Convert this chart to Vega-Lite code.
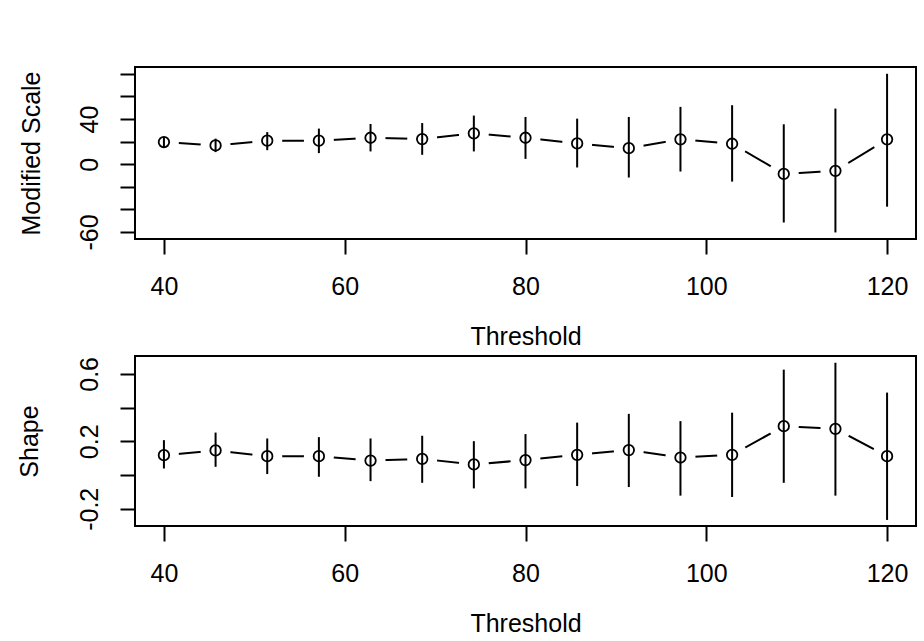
{
  "$schema": "https://vega.github.io/schema/vega-lite/v6.json",
  "background": "white",
  "padding": {"left": 16, "top": 66, "right": 8, "bottom": 3},
  "bounds": "flush",
  "spacing": 117,
  "datasets": {
    "scale": [
      {"threshold": 40, "est": 19.6, "lower": 15, "upper": 24},
      {"threshold": 45.714, "est": 16.6, "lower": 10.7, "upper": 22.6},
      {"threshold": 51.429, "est": 20.8, "lower": 12.4, "upper": 28.4},
      {"threshold": 57.143, "est": 20.8, "lower": 9.8, "upper": 31.5},
      {"threshold": 62.857, "est": 23.4, "lower": 11.3, "upper": 35.6},
      {"threshold": 68.571, "est": 22.2, "lower": 8.3, "upper": 36.4},
      {"threshold": 74.286, "est": 27.3, "lower": 11.3, "upper": 43},
      {"threshold": 80, "est": 23.4, "lower": 4.7, "upper": 41.8},
      {"threshold": 85.714, "est": 18.4, "lower": -2.9, "upper": 40.3},
      {"threshold": 91.429, "est": 14.2, "lower": -11.8, "upper": 41.8},
      {"threshold": 97.143, "est": 22, "lower": -6.5, "upper": 50.7},
      {"threshold": 102.857, "est": 18.1, "lower": -15.4, "upper": 52.2},
      {"threshold": 108.571, "est": -8.6, "lower": -51.6, "upper": 35.3},
      {"threshold": 114.286, "est": -5.9, "lower": -60.4, "upper": 49.2},
      {"threshold": 120, "est": 22, "lower": -37.6, "upper": 80}
    ],
    "shape": [
      {"threshold": 40, "est": 0.118, "lower": 0.039, "upper": 0.207},
      {"threshold": 45.714, "est": 0.146, "lower": 0.049, "upper": 0.252},
      {"threshold": 51.429, "est": 0.112, "lower": 0.006, "upper": 0.217},
      {"threshold": 57.143, "est": 0.112, "lower": -0.01, "upper": 0.225},
      {"threshold": 62.857, "est": 0.086, "lower": -0.036, "upper": 0.217},
      {"threshold": 68.571, "est": 0.096, "lower": -0.046, "upper": 0.233},
      {"threshold": 74.286, "est": 0.063, "lower": -0.079, "upper": 0.201},
      {"threshold": 80, "est": 0.089, "lower": -0.079, "upper": 0.243},
      {"threshold": 85.714, "est": 0.12, "lower": -0.065, "upper": 0.311},
      {"threshold": 91.429, "est": 0.148, "lower": -0.071, "upper": 0.363},
      {"threshold": 97.143, "est": 0.104, "lower": -0.122, "upper": 0.32},
      {"threshold": 102.857, "est": 0.12, "lower": -0.13, "upper": 0.37},
      {"threshold": 108.571, "est": 0.29, "lower": -0.046, "upper": 0.625},
      {"threshold": 114.286, "est": 0.274, "lower": -0.122, "upper": 0.666},
      {"threshold": 120, "est": 0.112, "lower": -0.266, "upper": 0.489}
    ]
  },
  "vconcat": [
    {
      "width": 781,
      "height": 172,
      "data": {"name": "scale"},
      "encoding": {
        "x": {
          "field": "threshold", "type": "quantitative", "title": "Threshold",
          "scale": {"domain": [36.8, 123.2], "nice": false, "zero": false},
          "axis": {"values": [40, 60, 80, 100, 120], "tickCount": 10, "format": "d", "titleX": 390.5, "titleY": 105}
        }
      },
      "layer": [
        {
          "mark": {"type": "line", "color": "black", "strokeWidth": 2},
          "encoding": {
            "y": {
              "field": "est", "type": "quantitative", "title": "Modified Scale",
              "scale": {"domain": [-66.2, 86], "nice": false, "zero": false},
              "axis": {
                "values": [-60, -40, -20, 0, 20, 40, 60, 80],
                "tickCount": 20,
                "labelExpr": "indexof([40, 0, -60], datum.value) >= 0 ? toString(datum.value) : ''",
                "titleX": -96, "titleY": 86
              }
            }
          }
        },
        {
          "mark": {"type": "point", "shape": "circle", "filled": true, "color": "white", "opacity": 1, "size": 900, "strokeWidth": 0},
          "encoding": {"y": {"field": "est", "type": "quantitative", "title": "Modified Scale"}}
        },
        {
          "mark": {"type": "rule", "color": "black", "strokeWidth": 2},
          "encoding": {
            "y": {"field": "lower", "type": "quantitative", "title": "Modified Scale"},
            "y2": {"field": "upper"}
          }
        },
        {
          "mark": {"type": "point", "shape": "circle", "filled": false, "color": "black", "opacity": 1, "size": 110, "strokeWidth": 1.8},
          "encoding": {"y": {"field": "est", "type": "quantitative", "title": "Modified Scale"}}
        }
      ]
    },
    {
      "width": 781,
      "height": 170,
      "data": {"name": "shape"},
      "encoding": {
        "x": {
          "field": "threshold", "type": "quantitative", "title": "Threshold",
          "scale": {"domain": [36.8, 123.2], "nice": false, "zero": false},
          "axis": {"values": [40, 60, 80, 100, 120], "tickCount": 10, "format": "d", "titleX": 390.5, "titleY": 105}
        }
      },
      "layer": [
        {
          "mark": {"type": "line", "color": "black", "strokeWidth": 2},
          "encoding": {
            "y": {
              "field": "est", "type": "quantitative", "title": "Shape",
              "scale": {"domain": [-0.302, 0.706], "nice": false, "zero": false},
              "axis": {
                "values": [-0.2, 0, 0.2, 0.4, 0.6],
                "tickCount": 20,
                "labelExpr": "indexof([0.6, 0.2, -0.2], datum.value) >= 0 ? toString(datum.value) : ''",
                "titleX": -98, "titleY": 85
              }
            }
          }
        },
        {
          "mark": {"type": "point", "shape": "circle", "filled": true, "color": "white", "opacity": 1, "size": 900, "strokeWidth": 0},
          "encoding": {"y": {"field": "est", "type": "quantitative", "title": "Shape"}}
        },
        {
          "mark": {"type": "rule", "color": "black", "strokeWidth": 2},
          "encoding": {
            "y": {"field": "lower", "type": "quantitative", "title": "Shape"},
            "y2": {"field": "upper"}
          }
        },
        {
          "mark": {"type": "point", "shape": "circle", "filled": false, "color": "black", "opacity": 1, "size": 110, "strokeWidth": 1.8},
          "encoding": {"y": {"field": "est", "type": "quantitative", "title": "Shape"}}
        }
      ]
    }
  ],
  "config": {
    "font": "Liberation Sans",
    "view": {"stroke": "black", "strokeWidth": 2},
    "axis": {
      "grid": false,
      "domain": false,
      "ticks": true,
      "tickColor": "black",
      "tickWidth": 2,
      "tickSize": 15,
      "labelFont": "Liberation Sans",
      "labelFontSize": 25,
      "labelColor": "black",
      "labelPadding": 20,
      "labelOverlap": false,
      "labelFlush": false,
      "titleFont": "Liberation Sans",
      "titleFontSize": 25,
      "titleFontWeight": "normal",
      "titleColor": "black",
      "titleAlign": "center",
      "titleBaseline": "alphabetic"
    },
    "axisLeft": {
      "labelAngle": 270,
      "labelAlign": "center",
      "labelBaseline": "alphabetic",
      "labelPadding": 23,
      "titleAngle": 270
    },
    "axisBottom": {
      "labelBaseline": "top"
    }
  }
}
